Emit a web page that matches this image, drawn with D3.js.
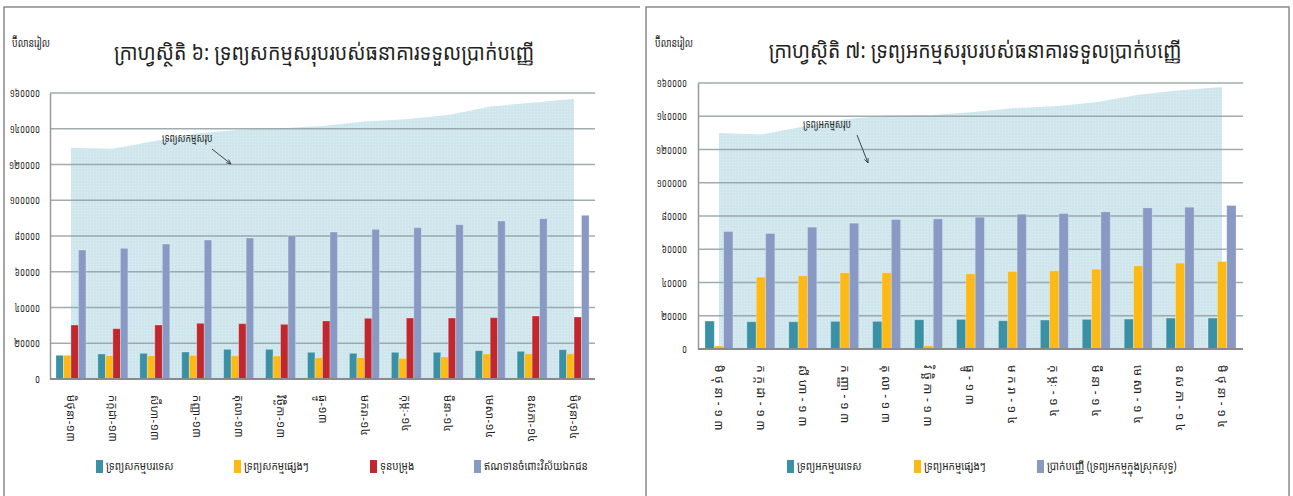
<!DOCTYPE html>
<html><head><meta charset="utf-8">
<script src="https://cdn.jsdelivr.net/npm/d3@7"></script>
<style>
body{margin:0;background:#fff}
svg{display:block}
text{font-family:"Noto Sans Khmer","Khmer OS","Khmer OS System","Noto Sans","DejaVu Sans",sans-serif;fill:#222}
</style>
</head><body>
<svg id="c" width="1293" height="496"></svg>
<script>
// ---------- data ----------
const months = ["មិថុនា-១៣","កក្កដា-១៣","សីហា-១៣","កញ្ញា-១៣","តុលា-១៣","វិច្ឆិកា-១៣","ធ្នូ-១៣","មករា-១៤","កុម្ភៈ-១៤","មីនា-១៤","មេសា-១៤","ឧសភា-១៤","មិថុនា-១៤"];
const yTicks = [0,20000,40000,60000,80000,100000,120000,140000,160000];
const yTickLabels = ["០","២០០០០","៤០០០០","៦០០០០","៨០០០០","១០០០០០","១២០០០០","១៤០០០០","១៦០០០០"];

// Chart 6: assets
const foreignAssets = [13260,13990,14380,15100,16610,16610,14940,14380,14940,14940,15830,15500,16390];
const otherAssets   = [13260,13030,13030,13260,13030,12870,11920,11920,11580,12310,13990,14150,14150];
const reserves      = [30210,28140,30210,31160,30940,30600,32450,33960,34120,34120,34290,35240,34680];
const privateCredit = [72170,73110,75520,77760,78880,80170,82240,83750,84640,86320,88390,89670,91580];
const totalAssets   = [129400,128800,133200,137300,139500,140300,141600,144000,145300,147700,152500,154600,156800];
const assetNames = ["ទ្រព្យសកម្មបរទេស","ទ្រព្យសកម្មផ្សេងៗ","ទុនបម្រុង","ឥណទានចំពោះវិស័យឯកជន"];

// Chart 7: liabilities
const foreignLiab = [16820,16400,16400,16640,16640,17600,17840,17000,17420,17840,18020,18620,18620];
const otherLiab   = [1800,43260,44040,45840,45840,1980,45240,46680,47040,48060,50050,51670,52690];
const deposits    = [70710,69510,73300,75700,77920,78280,79310,81110,81530,82490,84890,85310,86330];
const totalLiab   = [129950,129000,133700,138200,140400,140600,142400,144800,146000,148400,153000,155600,157600];
const liabNames = ["ទ្រព្យអកម្មបរទេស","ទ្រព្យអកម្មផ្សេងៗ","ប្រាក់បញ្ញើ (ទ្រព្យអកម្មក្នុងស្រុកសុទ្ធ)"];

const unitLabel = "ប៊ីលានរៀល";
const title6 = "ក្រាហ្វស្ថិតិ ៦: ទ្រព្យសកម្មសរុបរបស់ធនាគារទទួលប្រាក់បញ្ញើ";
const title7 = "ក្រាហ្វស្ថិតិ ៧: ទ្រព្យអកម្មសរុបរបស់ធនាគារទទួលប្រាក់បញ្ញើ";
const totalAssetLabel = "ទ្រព្យសកម្មសរុប";
const totalLiabLabel = "ទ្រព្យអកម្មសរុប";

// ---------- drawing ----------
const svg = d3.select("#c");
const defs = svg.append("defs");
const pat = defs.append("pattern").attr("id","dots").attr("width",3).attr("height",3).attr("patternUnits","userSpaceOnUse");
pat.append("rect").attr("width",3).attr("height",3).attr("fill","#cfe6ec");
pat.append("rect").attr("x",0).attr("y",0).attr("width",1).attr("height",1).attr("fill","#e0eff3");

// squeeze text horizontally (reference uses a condensed Khmer face)
function condense(sel, f){
  sel.each(function(){
    const w = this.getComputedTextLength();
    if (w > 0) d3.select(this).attr("textLength", w*f).attr("lengthAdjust","spacingAndGlyphs");
  });
}

// panel frames
svg.append("path").attr("d","M4,496 V7 H640").attr("fill","none").attr("stroke","#8a8a8a").attr("stroke-width",1.5);
svg.append("path").attr("d","M646,496 V7 H1289 V496").attr("fill","none").attr("stroke","#8a8a8a").attr("stroke-width",1.5);

function drawPanel(cfg){
  const g = svg.append("g");
  const y = d3.scaleLinear().domain([0,160000]).range([cfg.y0, cfg.y1]);
  const x = d3.scaleBand().domain(months).range([cfg.x0, cfg.x1]).padding(0);
  const xs = d3.scaleBand().domain(d3.range(cfg.series.length)).range([-cfg.groupW/2, cfg.groupW/2]).padding(0);

  // area (total)
  const area = d3.area()
    .x((d,i)=>x(months[i]) + x.bandwidth()/2)
    .y0(y(0)).y1(d=>y(d)).curve(d3.curveLinear);
  g.append("path").datum(cfg.total).attr("d",area).attr("fill","url(#dots)");

  // gridlines
  g.selectAll(".grid").data(yTicks.slice(1)).join("line")
    .attr("x1",cfg.x0).attr("x2",cfg.x1)
    .attr("y1",d=>y(d)).attr("y2",d=>y(d))
    .attr("stroke","#8f9ea2").attr("stroke-opacity",0.85).attr("stroke-width",1.5);

  // y axis
  const yAxis = d3.axisLeft(y).tickValues(yTicks).tickFormat((d,i)=>yTickLabels[i]).tickSize(0).tickPadding(cfg.tickPad);
  const ya = g.append("g").attr("transform",`translate(${cfg.x0},0)`).call(yAxis);
  ya.select(".domain").attr("stroke","#999").attr("stroke-width",1.5);
  ya.selectAll("text").attr("font-size",cfg.tickSize).attr("fill","#333").attr("font-family",null);
  condense(ya.selectAll("text"), 0.72);

  // bars
  cfg.series.forEach((s,si)=>{
    g.selectAll(".b"+si).data(s).join("rect")
      .attr("x",(d,i)=>x(months[i]) + x.bandwidth()/2 + xs(si))
      .attr("width",xs.bandwidth())
      .attr("y",d=>y(d))
      .attr("height",d=>y(0)-y(d))
      .attr("fill",cfg.colors[si])
      .attr("stroke","rgba(255,255,255,0.35)").attr("stroke-width",0.8);
  });

  // x axis baseline
  g.append("line").attr("x1",cfg.x0).attr("x2",cfg.x1).attr("y1",y(0)).attr("y2",y(0))
    .attr("stroke","#8a8a8a").attr("stroke-width",2);

  // x labels rotated
  g.selectAll(".xl").data(months).join("text")
    .attr("transform",d=>`translate(${x(d)+x.bandwidth()/2 - cfg.labelSize*0.35},${cfg.labelTop}) rotate(90)`)
    .attr("text-anchor","start")
    .attr("font-size",cfg.labelSize)
    .attr("letter-spacing",cfg.labelSpacing)
    .attr("fill","#333")
    .text(d=>d);

  // unit, title
  const u = g.append("text").attr("x",cfg.unitX).attr("y",cfg.unitY).attr("font-size",12).attr("fill","#333").text(unitLabel);
  condense(u, 0.74);
  const t = g.append("text").attr("x",cfg.titleX).attr("y",cfg.titleY).attr("text-anchor","middle").attr("font-size",cfg.titleSize).attr("fill","#333").text(cfg.title);
  condense(t, cfg.titleFit);

  // annotation
  const at = g.append("text").attr("x",cfg.ann.tx).attr("y",cfg.ann.ty).attr("font-size",11).attr("fill","#333").text(cfg.ann.text);
  condense(at, 0.78);
  g.append("line").attr("x1",cfg.ann.x1).attr("y1",cfg.ann.y1).attr("x2",cfg.ann.x2).attr("y2",cfg.ann.y2)
    .attr("stroke","#444").attr("stroke-width",1);
  const ang = Math.atan2(cfg.ann.y2-cfg.ann.y1, cfg.ann.x2-cfg.ann.x1);
  const ah = 5;
  g.append("path").attr("d",`M${cfg.ann.x2},${cfg.ann.y2} L${cfg.ann.x2-ah*Math.cos(ang-0.4)},${cfg.ann.y2-ah*Math.sin(ang-0.4)} M${cfg.ann.x2},${cfg.ann.y2} L${cfg.ann.x2-ah*Math.cos(ang+0.4)},${cfg.ann.y2-ah*Math.sin(ang+0.4)}`)
    .attr("stroke","#444").attr("fill","none");

  // legend
  cfg.names.forEach((n,i)=>{
    const lx = cfg.legendX[i];
    g.append("rect").attr("x",lx).attr("y",cfg.legendY-6).attr("width",7).attr("height",13).attr("fill",cfg.colors[i]);
    const lt = g.append("text").attr("x",lx+10).attr("y",cfg.legendY).attr("dy","0.35em").attr("font-size",12.5).attr("fill","#333").text(n);
    condense(lt, 0.8);
  });
}

drawPanel({
  x0:50, x1:595, y0:379, y1:93, groupW:30,
  series:[foreignAssets, otherAssets, reserves, privateCredit],
  total: totalAssets,
  colors:["#3a91a6","#fdb914","#c1272d","#8899c4"],
  names: assetNames,
  tickPad:10, tickSize:11,
  labelTop:395, labelSize:11, labelSpacing:0.5,
  unitX:12, unitY:47, titleX:324, titleY:60, titleSize:22, titleFit:0.89, title:title6,
  ann:{text:totalAssetLabel, tx:162, ty:142, x1:212, y1:149, x2:231, y2:164},
  legendX:[96,234,370,474], legendY:466
});

drawPanel({
  x0:698, x1:1243, y0:349, y1:83, groupW:28,
  series:[foreignLiab, otherLiab, deposits],
  total: totalLiab,
  colors:["#3a91a6","#fdb914","#8899c4"],
  names: liabNames,
  tickPad:11, tickSize:11,
  labelTop:365, labelSize:12, labelSpacing:3.5,
  unitX:655, unitY:47, titleX:975, titleY:58, titleSize:22, titleFit:0.88, title:title7,
  ann:{text:totalLiabLabel, tx:803, ty:128, x1:857, y1:135, x2:868, y2:163},
  legendX:[787,914,1037], legendY:466
});
</script>
</body></html>
